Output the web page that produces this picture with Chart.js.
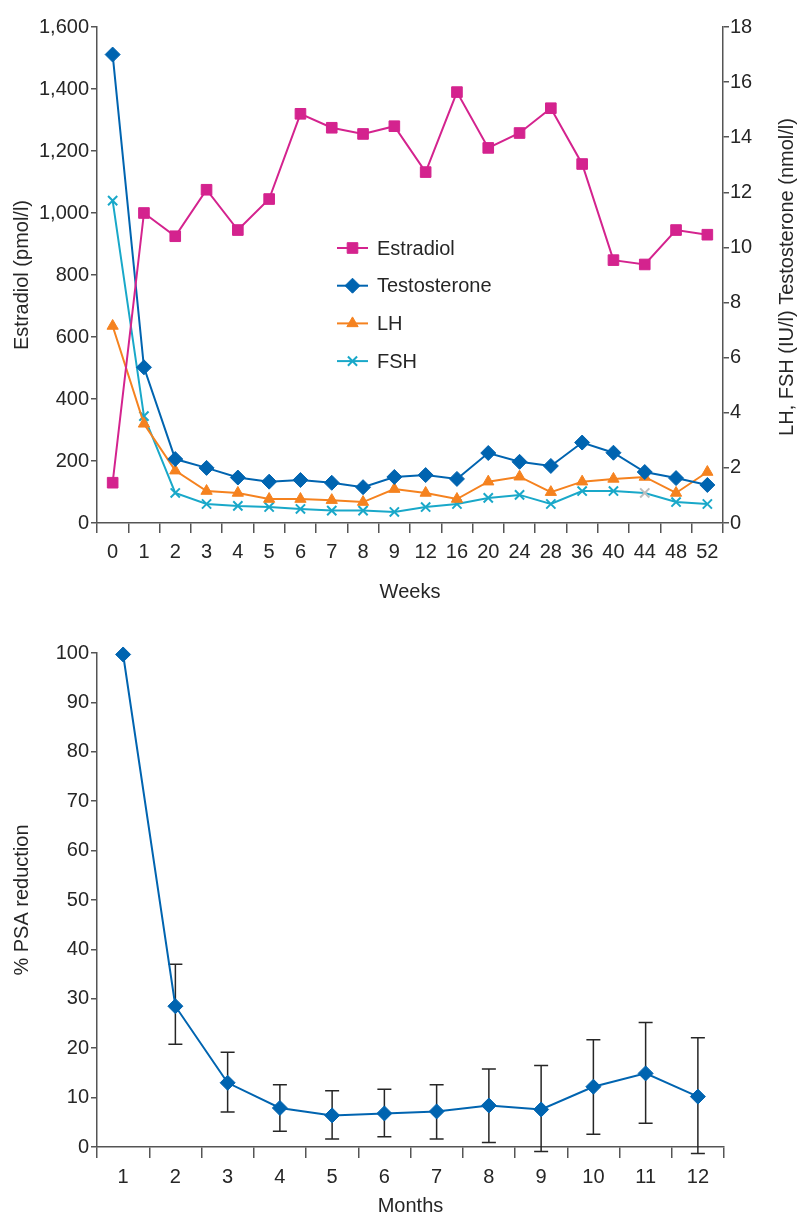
<!DOCTYPE html>
<html>
<head>
<meta charset="utf-8">
<script src="https://cdn.jsdelivr.net/npm/chart.js@4.4.1/dist/chart.umd.min.js"></script>
<style>
  html, body { margin: 0; padding: 0; background: #fff; }
  .box { position: relative; width: 798px; }
  #top { height: 610px; }
  #bottom { height: 608px; }
</style>
</head>
<body>
<div class="box" id="top"><canvas id="hormoneChart"></canvas></div>
<div class="box" id="bottom"><canvas id="psaChart"></canvas></div>
<script>
// hormone levels by week
const weeks = ['0', '1', '2', '3', '4', '5', '6', '7', '8', '9', '12', '16', '20', '24', '28', '36', '40', '44', '48', '52']
const estradiol = [130, 1000, 925, 1075, 945, 1045, 1320, 1275, 1255, 1280, 1132, 1390, 1210, 1258, 1338, 1158, 848, 834, 945, 930]
const testosterone = [17.0, 5.65, 2.32, 2.0, 1.65, 1.5, 1.56, 1.46, 1.3, 1.67, 1.74, 1.6, 2.54, 2.22, 2.07, 2.92, 2.55, 1.85, 1.63, 1.38]
const lh = [7.15, 3.6, 1.9, 1.16, 1.09, 0.87, 0.87, 0.83, 0.76, 1.23, 1.09, 0.87, 1.5, 1.68, 1.12, 1.5, 1.6, 1.67, 1.09, 1.85]
const fsh = [11.7, 3.88, 1.09, 0.69, 0.62, 0.58, 0.51, 0.45, 0.45, 0.4, 0.58, 0.69, 0.91, 1.02, 0.69, 1.16, 1.16, 1.09, 0.76, 0.69]

// PSA reduction by month
const months = ['1', '2', '3', '4', '5', '6', '7', '8', '9', '10', '11', '12']
const psaMean = [99.7, 28.5, 13.0, 7.9, 6.4, 6.8, 7.2, 8.4, 7.6, 12.2, 14.9, 10.2]
const psaLow = [null, 20.8, 7.1, 3.2, 1.6, 2.1, 1.6, 0.9, -0.9, 2.6, 4.8, -1.3]
const psaHigh = [null, 37.0, 19.2, 12.6, 11.4, 11.7, 12.6, 15.8, 16.5, 21.7, 25.2, 22.1]

const INK = '#262626'
const AXIS = '#555555'
const FONT = '"Liberation Sans", Arial, sans-serif'
const FS = 20
Chart.defaults.font.family = FONT
Chart.defaults.font.size = FS
Chart.defaults.color = INK

function axisGrid(len) {
    return { display: true, drawOnChartArea: false, drawTicks: true, tickLength: len, color: AXIS, lineWidth: 1.5 }
}

// legend drawn inside the plot, like the original
const innerLegend = {
    id: 'innerLegend',
    afterDraw(chart) {
        const ctx = chart.ctx
        const area = chart.chartArea
        const x0 = area.left + 240, x1 = area.left + 271
        chart.data.datasets.forEach((ds, i) => {
            const y = area.top + 221 + i * 37.7
            ctx.save()
            ctx.strokeStyle = ds.borderColor
            ctx.lineWidth = 2
            ctx.beginPath()
            ctx.moveTo(x0, y)
            ctx.lineTo(x1, y)
            ctx.stroke()
            ctx.fillStyle = ds.backgroundColor
            ctx.strokeStyle = ds.borderColor
            ctx.lineWidth = ds.pointBorderWidth || 1
            Chart.helpers.drawPoint(ctx, { pointStyle: ds.pointStyle, radius: ds.pointRadius, borderWidth: ds.pointBorderWidth || 1 }, (x0 + x1) / 2, y)
            ctx.fillStyle = INK
            ctx.font = FS + 'px ' + FONT
            ctx.textBaseline = 'middle'
            ctx.fillText(ds.label, x1 + 9, y + 1)
            ctx.restore()
        })
    }
}

// right axis title reads bottom-to-top
const rightTitle = {
    id: 'rightTitle',
    afterDraw(chart) {
        const ctx = chart.ctx
        const area = chart.chartArea
        ctx.save()
        ctx.translate(787, (area.top + area.bottom) / 2 + 2)
        ctx.rotate(-Math.PI / 2)
        ctx.fillStyle = INK
        ctx.font = FS + 'px ' + FONT
        ctx.textAlign = 'center'
        ctx.textBaseline = 'middle'
        ctx.fillText('LH, FSH (IU/l) Testosterone (nmol/l)', 0, 0)
        ctx.restore()
    }
}

new Chart(document.getElementById('hormoneChart'), {
    type: 'line',
    data: {
        labels: weeks,
        datasets: [
            { label: 'Estradiol', data: estradiol, yAxisID: 'y', borderColor: '#d4238e', backgroundColor: '#d4238e',
              pointStyle: 'rect', pointRadius: 7.5, pointBorderWidth: 1, borderWidth: 2, clip: false },
            { label: 'Testosterone', data: testosterone, yAxisID: 'y1', borderColor: '#0064b0', backgroundColor: '#0064b0',
              pointStyle: 'rectRot', pointRadius: 7.5, pointBorderWidth: 1, borderWidth: 2, clip: false },
            { label: 'LH', data: lh, yAxisID: 'y1', borderColor: '#f5821f', backgroundColor: '#f5821f',
              pointStyle: 'triangle', pointRadius: 6.5, pointBorderWidth: 1, borderWidth: 2, clip: false },
            { label: 'FSH', data: fsh, yAxisID: 'y1', borderColor: '#19a8c9', backgroundColor: '#19a8c9',
              pointBorderColor: fsh.map((v, i) => weeks[i] === '44' ? '#bdbdbd' : '#19a8c9'),
              pointStyle: 'crossRot', pointRadius: 6.5, pointBorderWidth: 2, borderWidth: 2, clip: false }
        ]
    },
    options: {
        responsive: true,
        maintainAspectRatio: false,
        animation: false,
        layout: { padding: { top: 27, left: 0, right: 0, bottom: 0 } },
        plugins: { legend: { display: false }, tooltip: { enabled: false } },
        scales: {
            x: {
                offset: true,
                grid: { ...axisGrid(10), offset: true },
                border: { color: AXIS, width: 1.5 },
                ticks: { padding: 7, maxRotation: 0, autoSkip: false },
                title: { display: true, text: 'Weeks', padding: { top: 0, bottom: 6 } },
                afterFit: s => { s.height = 87 }
            },
            y: {
                position: 'left',
                min: 0, max: 1600,
                grid: axisGrid(6),
                border: { color: AXIS, width: 1.5 },
                ticks: { stepSize: 200, padding: 2 },
                title: { display: true, text: 'Estradiol (pmol/l)', padding: { top: 10, bottom: 0 } },
                afterFit: s => { s.width = 97 }
            },
            y1: {
                position: 'right',
                min: 0, max: 18,
                grid: axisGrid(6),
                border: { color: AXIS, width: 1.5 },
                ticks: { stepSize: 2, padding: 1 },
                afterFit: s => { s.width = 75 }
            }
        }
    },
    plugins: [innerLegend, rightTitle]
})

// error bars from the data arrays, through the chart's own scales
const errorBars = {
    id: 'errorBars',
    beforeDatasetsDraw(chart) {
        const ctx = chart.ctx
        const xs = chart.scales.x, ys = chart.scales.y
        ctx.save()
        ctx.strokeStyle = INK
        ctx.lineWidth = 1.5
        psaLow.forEach((lo, i) => {
            if (lo === null) return
            const x = xs.getPixelForValue(i)
            const yl = ys.getPixelForValue(lo)
            const yh = ys.getPixelForValue(psaHigh[i])
            ctx.beginPath()
            ctx.moveTo(x, yl); ctx.lineTo(x, yh)
            ctx.moveTo(x - 7, yl); ctx.lineTo(x + 7, yl)
            ctx.moveTo(x - 7, yh); ctx.lineTo(x + 7, yh)
            ctx.stroke()
        })
        ctx.restore()
    }
}

new Chart(document.getElementById('psaChart'), {
    type: 'line',
    data: {
        labels: months,
        datasets: [{
            label: '% PSA reduction', data: psaMean, borderColor: '#0064b0', backgroundColor: '#0064b0',
            pointStyle: 'rectRot', pointRadius: 7.5, pointBorderWidth: 1, borderWidth: 2, clip: false
        }]
    },
    options: {
        responsive: true,
        maintainAspectRatio: false,
        animation: false,
        layout: { padding: { top: 43, left: 0, right: 74, bottom: 0 } },
        plugins: { legend: { display: false }, tooltip: { enabled: false } },
        scales: {
            x: {
                offset: true,
                grid: { ...axisGrid(11), offset: true },
                border: { color: AXIS, width: 1.5 },
                ticks: { padding: 7, maxRotation: 0, autoSkip: false },
                title: { display: true, text: 'Months', padding: { top: 0, bottom: 0 } },
                afterFit: s => { s.height = 71 }
            },
            y: {
                min: 0, max: 100,
                grid: axisGrid(6),
                border: { color: AXIS, width: 1.5 },
                ticks: { stepSize: 10, padding: 2 },
                title: { display: true, text: '% PSA reduction', padding: { top: 10, bottom: 0 } },
                afterFit: s => { s.width = 97 }
            }
        }
    },
    plugins: [errorBars]
})
</script>
</body>
</html>
